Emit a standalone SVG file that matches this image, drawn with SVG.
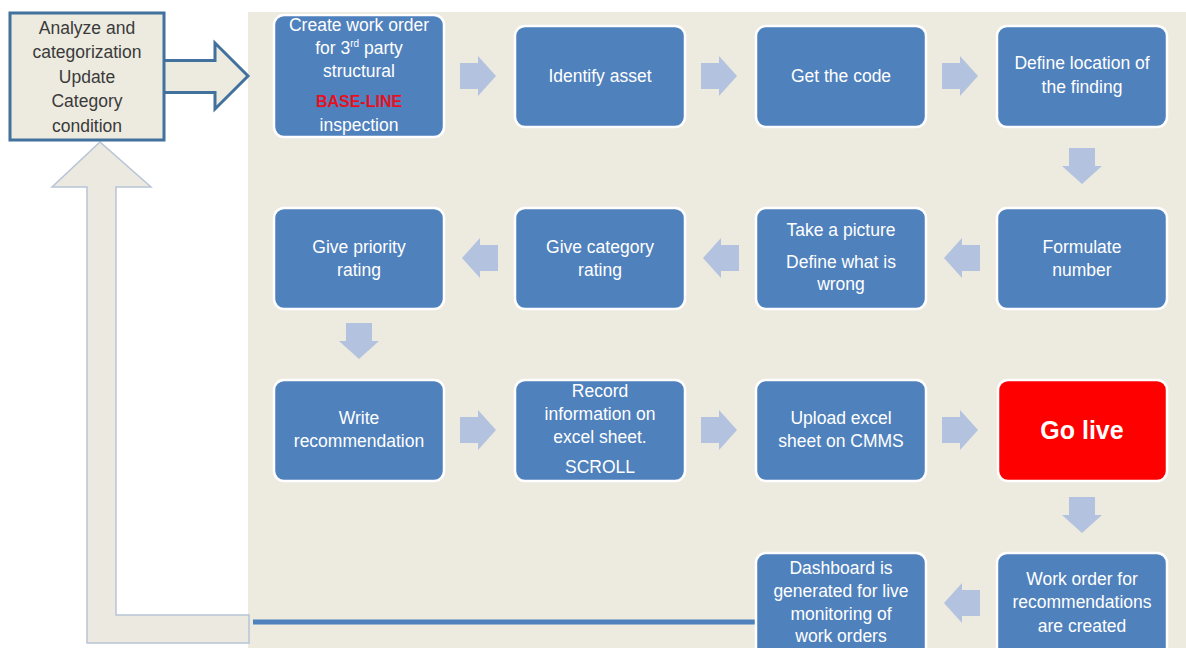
<svg xmlns="http://www.w3.org/2000/svg" width="1186" height="648" viewBox="0 0 1186 648">
  <style>
    .box { fill: #4F81BD; stroke: #FFFFFF; stroke-width: 2.5; }
    .live { fill: #FF0000; stroke: #FFFFFF; stroke-width: 2.5; }
    .lbl { font-family: "Liberation Sans", Arial, sans-serif; font-size: 17.5px; fill: #FFFFFF; text-anchor: middle; }
    .dark { font-family: "Liberation Sans", Arial, sans-serif; font-size: 17.5px; fill: #3A3A3A; text-anchor: middle; }
    .flow { fill: #B3C3DF; }
  </style>
  <defs>
    <!-- block arrow pointing right, centred on the origin -->
    <path id="blk" d="M-18,-13 H0 V-20 L18,0 L0,20 V13 H-18 Z"/>
  </defs>

  <rect width="1186" height="648" fill="#FFFFFF"/>
  <!-- process panel -->
  <rect x="248" y="12" width="938" height="636" fill="#EDEAE0"/>

  <!-- feedback loop arrow -->
  <g id="feedback">
    <path d="M249,615 H116 V187 H151 L100,142 L52,187 H87 V643 H249 Z" fill="#ECEAE0" stroke="#B8C4D6" stroke-width="1.5"/>
  </g>

  <!-- review step -->
  <g id="review">
    <path d="M163,60.5 H215 V43 L248,76 L215,109 V92.5 H163" fill="#EDEBE0" stroke="#41719C" stroke-width="3" stroke-linejoin="miter"/>
    <rect x="10" y="13" width="154" height="127" fill="#EDEBE0" stroke="#41719C" stroke-width="3"/>
    <text class="dark" x="87" y="34">Analyze and</text>
    <text class="dark" x="87" y="58">categorization</text>
    <text class="dark" x="87" y="83">Update</text>
    <text class="dark" x="87" y="107">Category</text>
    <text class="dark" x="87" y="132">condition</text>
  </g>

  <!-- connectors -->
  <g id="connectors">
    <line x1="253" y1="622" x2="758" y2="622" stroke="#4F81BD" stroke-width="5"/>
    <!-- row 1, left to right -->
    <use href="#blk" class="flow" transform="translate(478,76)"/>
    <use href="#blk" class="flow" transform="translate(719,76)"/>
    <use href="#blk" class="flow" transform="translate(960,76)"/>
    <use href="#blk" class="flow" transform="translate(1082,166) rotate(90)"/>
    <!-- row 2, right to left -->
    <use href="#blk" class="flow" transform="translate(962,258) rotate(180)"/>
    <use href="#blk" class="flow" transform="translate(721,258) rotate(180)"/>
    <use href="#blk" class="flow" transform="translate(480,258) rotate(180)"/>
    <use href="#blk" class="flow" transform="translate(359,341) rotate(90)"/>
    <!-- row 3, left to right -->
    <use href="#blk" class="flow" transform="translate(478,430)"/>
    <use href="#blk" class="flow" transform="translate(719,430)"/>
    <use href="#blk" class="flow" transform="translate(960,430)"/>
    <use href="#blk" class="flow" transform="translate(1082,515) rotate(90)"/>
    <!-- row 4 -->
    <use href="#blk" class="flow" transform="translate(962,603) rotate(180)"/>
  </g>

  <!-- row 1 -->
  <g id="create-work-order">
    <rect class="box" x="274" y="15" width="170" height="122" rx="10"/>
    <text class="lbl" x="359" y="31">Create work order</text>
    <text class="lbl" x="359" y="54">for 3<tspan font-size="10" dy="-7">rd</tspan><tspan dy="7"> party</tspan></text>
    <text class="lbl" x="359" y="77">structural</text>
    <text class="lbl" x="359" y="107" style="fill:#E8101E;font-weight:bold;font-size:16px">BASE-LINE</text>
    <text class="lbl" x="359" y="131">inspection</text>
  </g>
  <g id="identify-asset">
    <rect class="box" x="515" y="26" width="170" height="101" rx="10"/>
    <text class="lbl" x="600" y="82">Identify asset</text>
  </g>
  <g id="get-code">
    <rect class="box" x="756" y="26" width="170" height="101" rx="10"/>
    <text class="lbl" x="841" y="82">Get the code</text>
  </g>
  <g id="define-location">
    <rect class="box" x="997" y="26" width="170" height="101" rx="10"/>
    <text class="lbl" x="1082" y="69">Define location of</text>
    <text class="lbl" x="1082" y="93">the finding</text>
  </g>

  <!-- row 2 -->
  <g id="priority-rating">
    <rect class="box" x="274" y="208" width="170" height="101" rx="10"/>
    <text class="lbl" x="359" y="253">Give priority</text>
    <text class="lbl" x="359" y="276">rating</text>
  </g>
  <g id="category-rating">
    <rect class="box" x="515" y="208" width="170" height="101" rx="10"/>
    <text class="lbl" x="600" y="253">Give category</text>
    <text class="lbl" x="600" y="276">rating</text>
  </g>
  <g id="take-picture">
    <rect class="box" x="756" y="208" width="170" height="101" rx="10"/>
    <text class="lbl" x="841" y="236">Take a picture</text>
    <text class="lbl" x="841" y="268">Define what is</text>
    <text class="lbl" x="841" y="290">wrong</text>
  </g>
  <g id="formulate-number">
    <rect class="box" x="997" y="208" width="170" height="101" rx="10"/>
    <text class="lbl" x="1082" y="253">Formulate</text>
    <text class="lbl" x="1082" y="276">number</text>
  </g>

  <!-- row 3 -->
  <g id="write-recommendation">
    <rect class="box" x="274" y="380" width="170" height="101" rx="10"/>
    <text class="lbl" x="359" y="424">Write</text>
    <text class="lbl" x="359" y="447">recommendation</text>
  </g>
  <g id="record-information">
    <rect class="box" x="515" y="380" width="170" height="101" rx="10"/>
    <text class="lbl" x="600" y="397">Record</text>
    <text class="lbl" x="600" y="420">information on</text>
    <text class="lbl" x="600" y="443">excel sheet.</text>
    <text class="lbl" x="600" y="473">SCROLL</text>
  </g>
  <g id="upload-sheet">
    <rect class="box" x="756" y="380" width="170" height="101" rx="10"/>
    <text class="lbl" x="841" y="424">Upload excel</text>
    <text class="lbl" x="841" y="447">sheet on CMMS</text>
  </g>
  <g id="go-live">
    <rect class="live" x="998" y="380" width="169" height="101" rx="10"/>
    <text class="lbl" x="1082" y="439" style="font-size:25px;font-weight:bold">Go live</text>
  </g>

  <!-- row 4 -->
  <g id="dashboard">
    <rect class="box" x="756" y="553" width="170" height="110" rx="10"/>
    <text class="lbl" x="841" y="574">Dashboard is</text>
    <text class="lbl" x="841" y="597">generated for live</text>
    <text class="lbl" x="841" y="620">monitoring of</text>
    <text class="lbl" x="841" y="642">work orders</text>
  </g>
  <g id="work-orders-created">
    <rect class="box" x="997" y="553" width="170" height="110" rx="10"/>
    <text class="lbl" x="1082" y="585">Work order for</text>
    <text class="lbl" x="1082" y="608">recommendations</text>
    <text class="lbl" x="1082" y="632">are created</text>
  </g>
</svg>
